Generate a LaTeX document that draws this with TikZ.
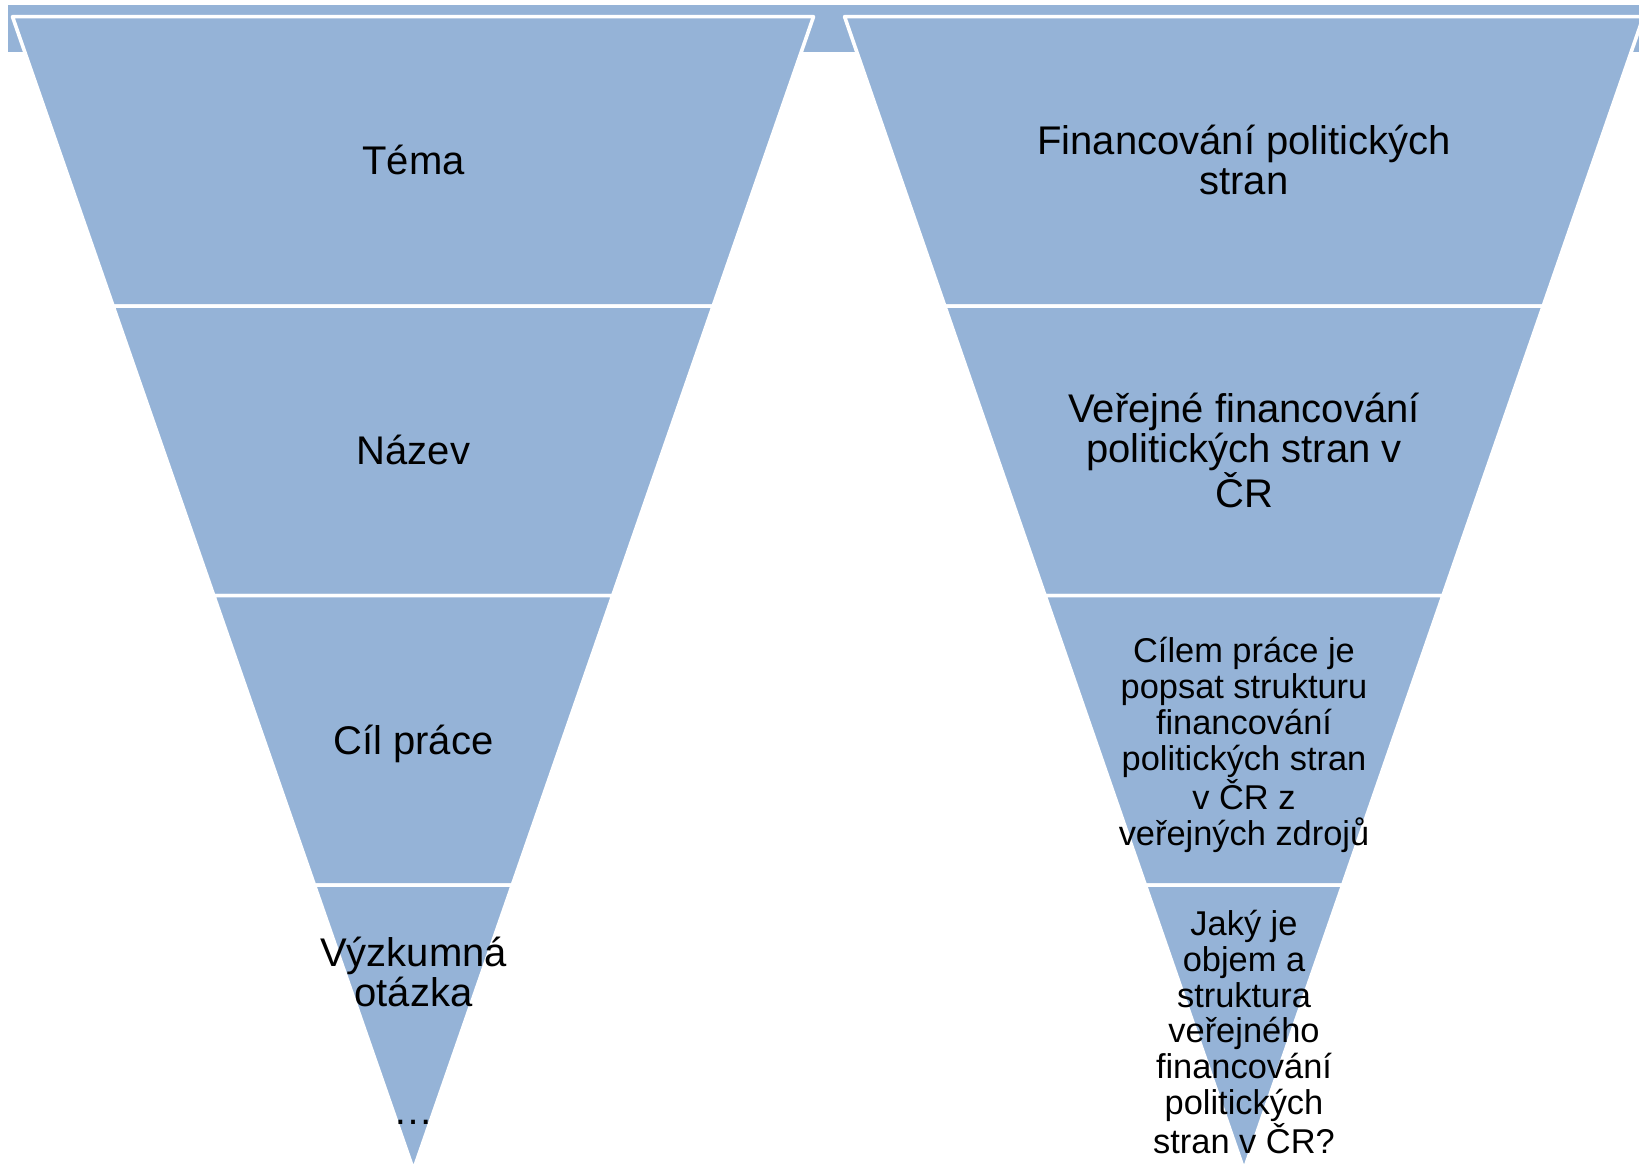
\documentclass[tikz,border=0pt]{standalone}
\usepackage{fontspec}
\setmainfont{Liberation Sans}
\usetikzlibrary{calc}
\definecolor{pyrblue}{HTML}{95B3D7}
\tikzset{
	band/.style = {fill=pyrblue},
	tier/.style = {fill=pyrblue, draw=white, line width=1.8pt, line join=round},
	bigtext/.style = {align=center, inner sep=0pt, font=\fontsize{20}{20.2}\selectfont},
	smalltext/.style = {align=center, inner sep=0pt, font=\fontsize{17.2}{17.9}\selectfont}
}

\begin{document}
\begin{tikzpicture}[x=0.5pt, y=-0.5pt]
	\useasboundingbox (0,0) rectangle (1639,1166);
	\clip (0,0) rectangle (1639,1166);
	\coordinate (ltl) at (12.5,16.7);
	\coordinate (ltr) at (813.5,16.7);
	\coordinate (lapex) at (413.5,1170);
	\coordinate (rtl) at (844.6,16.7);
	\coordinate (rtr) at (1643.4,16.7);
	\coordinate (rapex) at (1244,1170);
	\fill [band] (8.4,5.2) rectangle (1645,52.3);
	% left pyramid
	\draw [tier] (ltl) -- (ltr) -- ($(ltr)!0.251!(lapex)$) -- ($(ltl)!0.251!(lapex)$) -- cycle;
	\draw [tier] ($(ltl)!0.251!(lapex)$) -- ($(ltr)!0.251!(lapex)$) -- ($(ltr)!0.502!(lapex)$) -- ($(ltl)!0.502!(lapex)$) -- cycle;
	\draw [tier] ($(ltl)!0.502!(lapex)$) -- ($(ltr)!0.502!(lapex)$) -- ($(ltr)!0.753!(lapex)$) -- ($(ltl)!0.753!(lapex)$) -- cycle;
	\draw [tier] ($(ltl)!0.753!(lapex)$) -- ($(ltr)!0.753!(lapex)$) -- (lapex) -- cycle;
	% right pyramid
	\draw [tier] (rtl) -- (rtr) -- ($(rtr)!0.251!(rapex)$) -- ($(rtl)!0.251!(rapex)$) -- cycle;
	\draw [tier] ($(rtl)!0.251!(rapex)$) -- ($(rtr)!0.251!(rapex)$) -- ($(rtr)!0.502!(rapex)$) -- ($(rtl)!0.502!(rapex)$) -- cycle;
	\draw [tier] ($(rtl)!0.502!(rapex)$) -- ($(rtr)!0.502!(rapex)$) -- ($(rtr)!0.753!(rapex)$) -- ($(rtl)!0.753!(rapex)$) -- cycle;
	\draw [tier] ($(rtl)!0.753!(rapex)$) -- ($(rtr)!0.753!(rapex)$) -- (rapex) -- cycle;
	% texts
	\node [bigtext] (tema) at (413.5,160) {Téma};
	\node [bigtext] (nazev) at (413.5,449.5) {Název};
	\node [bigtext] (cil) at (413.5,744) {Cíl práce};
	\node [bigtext] (otazka) at (413.5,972) {Výzkumná\\otázka};
	\node [bigtext, anchor=base] (dots) at (413.5,1124) {…};
	\node [bigtext] (financovani) at (1244,160) {Financování politických\\stran};
	\node [bigtext] (verejne) at (1244,450.5) {Veřejné financování\\politických stran v\\ČR};
	\node [smalltext] (cilem) at (1244,745) {Cílem práce je\\popsat strukturu\\financování\\politických stran\\v ČR z\\veřejných zdrojů};
	\node [smalltext] (jaky) at (1244,1032) {Jaký je\\objem a\\struktura\\veřejného\\financování\\politických\\stran v ČR?};
\end{tikzpicture}
\end{document}
